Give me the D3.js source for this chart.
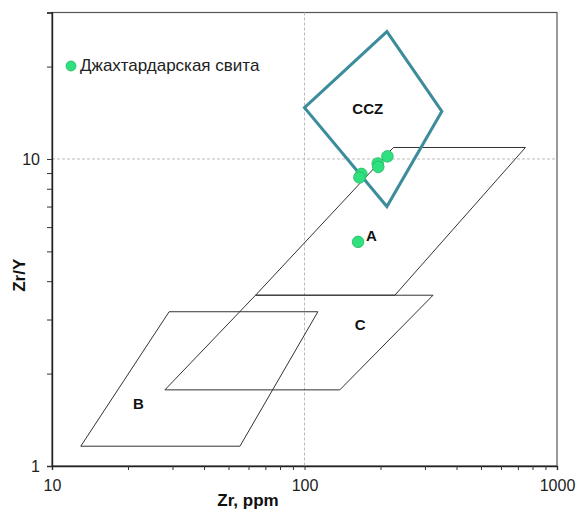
<!DOCTYPE html>
<html>
<head>
<meta charset="utf-8">
<script src="https://cdn.jsdelivr.net/npm/d3@7"></script>
<style>
  body { margin: 0; background: #fff; }
  text { font-family: "Liberation Sans", Arial, sans-serif; }
</style>
</head>
<body>
<svg id="chart" width="580" height="511"></svg>
<script>
// Zr/Y vs Zr discrimination diagram (log–log)
const xDomain = [10, 1000];
const yDomain = [1, 30];
const xTickLabels = [10, 100, 1000];
const yTickLabels = [1, 10];

// Field outlines: [Zr, Zr/Y]
const fieldA = [[64, 3.6], [225, 10.9], [750, 10.9], [228, 3.6]];
const fieldC = [[64, 3.6], [323, 3.6], [138, 1.77], [28, 1.77]];
const fieldB = [[29.1, 3.18], [113, 3.18], [55.5, 1.16], [13.0, 1.16]];
const fieldCCZ = [[100, 14.7], [212, 26], [350, 14.3], [212, 7]];

const fieldLabels = [
  { text: "CCZ", x: 178, y: 14.4 },
  { text: "A", x: 184, y: 5.55 },
  { text: "C", x: 166, y: 2.85 },
  { text: "B", x: 22, y: 1.58 }
];

// Джахтардарская свита samples
const sampleZr = [213, 195, 196, 168, 165, 163];
const sampleZrY = [10.2, 9.67, 9.42, 8.94, 8.71, 5.37];

const svg = d3.select("#chart");
const m = { left: 52, right: 557, top: 12.5, bottom: 466 };

const x = d3.scaleLog().domain(xDomain).range([m.left, m.right]);
const y = d3.scaleLog().domain(yDomain).range([m.bottom, m.top]);

// frame
svg.append("rect")
  .attr("x", m.left).attr("y", m.top)
  .attr("width", m.right - m.left).attr("height", m.bottom - m.top)
  .attr("fill", "none").attr("stroke", "#555").attr("stroke-width", 1.2);

// dashed grid at the major decades
svg.append("line")
  .attr("x1", x(100)).attr("x2", x(100))
  .attr("y1", m.top).attr("y2", m.bottom)
  .attr("stroke", "#bbb").attr("stroke-dasharray", "3,2");
svg.append("line")
  .attr("x1", m.left).attr("x2", m.right)
  .attr("y1", y(10)).attr("y2", y(10))
  .attr("stroke", "#bbb").attr("stroke-dasharray", "3,2");

// x axis
const xTicks = [];
for (let d = 10; d < 1000; d *= 10) for (let k = 1; k < 10; k++) xTicks.push(d * k);
xTicks.push(1000);
const xAxis = d3.axisBottom(x).tickValues(xTicks).tickSize(4)
  .tickFormat(d => xTickLabels.includes(d) ? d : "");
const gx = svg.append("g").attr("transform", `translate(0,${m.bottom})`).call(xAxis);
gx.select(".domain").attr("stroke", "#222").attr("stroke-width", 1.4);
gx.selectAll(".tick line").attr("stroke", "#333");
gx.selectAll(".tick text").attr("font-size", 16).attr("fill", "#222").attr("dy", "1.15em");

// y axis
const yTicks = [1, 2, 3, 4, 5, 6, 7, 8, 9, 10, 20, 30];
const yAxis = d3.axisLeft(y).tickValues(yTicks).tickSize(5)
  .tickFormat(d => yTickLabels.includes(d) ? d : "");
const gy = svg.append("g").attr("transform", `translate(${m.left},0)`).call(yAxis);
gy.select(".domain").attr("stroke", "#222").attr("stroke-width", 1.4);
gy.selectAll(".tick line").attr("stroke", "#333");
gy.selectAll(".tick text").attr("font-size", 16).attr("fill", "#222").attr("dx", "-0.25em");

// axis titles
svg.append("text")
  .attr("x", 248).attr("y", 506)
  .attr("text-anchor", "middle").attr("font-size", 17).attr("font-weight", "bold")
  .attr("fill", "#111").text("Zr, ppm");
svg.append("text")
  .attr("transform", `translate(25,${(m.top + m.bottom) / 2 + 36}) rotate(-90)`)
  .attr("text-anchor", "middle").attr("font-size", 17).attr("font-weight", "bold")
  .attr("fill", "#111").text("Zr/Y");

// fields
const line = d3.line().x(d => x(d[0])).y(d => y(d[1])).curve(d3.curveLinearClosed);
[fieldA, fieldC, fieldB].forEach(f => {
  svg.append("path").attr("d", line(f))
    .attr("fill", "none").attr("stroke", "#333").attr("stroke-width", 1);
});
svg.append("path").attr("d", line(fieldCCZ))
  .attr("fill", "none").attr("stroke", "#3c8c9c").attr("stroke-width", 3)
  .attr("stroke-linejoin", "miter");

// field labels
svg.selectAll(".flabel").data(fieldLabels).enter().append("text")
  .attr("x", d => x(d.x)).attr("y", d => y(d.y))
  .attr("text-anchor", "middle").attr("dominant-baseline", "middle")
  .attr("font-size", 15).attr("font-weight", "bold").attr("fill", "#111")
  .text(d => d.text);

// samples
const pts = sampleZr.map((v, i) => [v, sampleZrY[i]]);
svg.selectAll(".pt").data(pts).enter().append("circle")
  .attr("cx", d => x(d[0])).attr("cy", d => y(d[1])).attr("r", 5.8)
  .attr("fill", "#2fe07e").attr("stroke", "#25b865").attr("stroke-width", 0.8);

// legend
svg.append("circle").attr("cx", 71).attr("cy", 66).attr("r", 5)
  .attr("fill", "#2fe07e").attr("stroke", "#25b865").attr("stroke-width", 0.8);
svg.append("text").attr("x", 80).attr("y", 67).attr("dominant-baseline", "middle")
  .attr("font-size", 17).attr("fill", "#222").text("Джахтардарская свита");
</script>
</body>
</html>
